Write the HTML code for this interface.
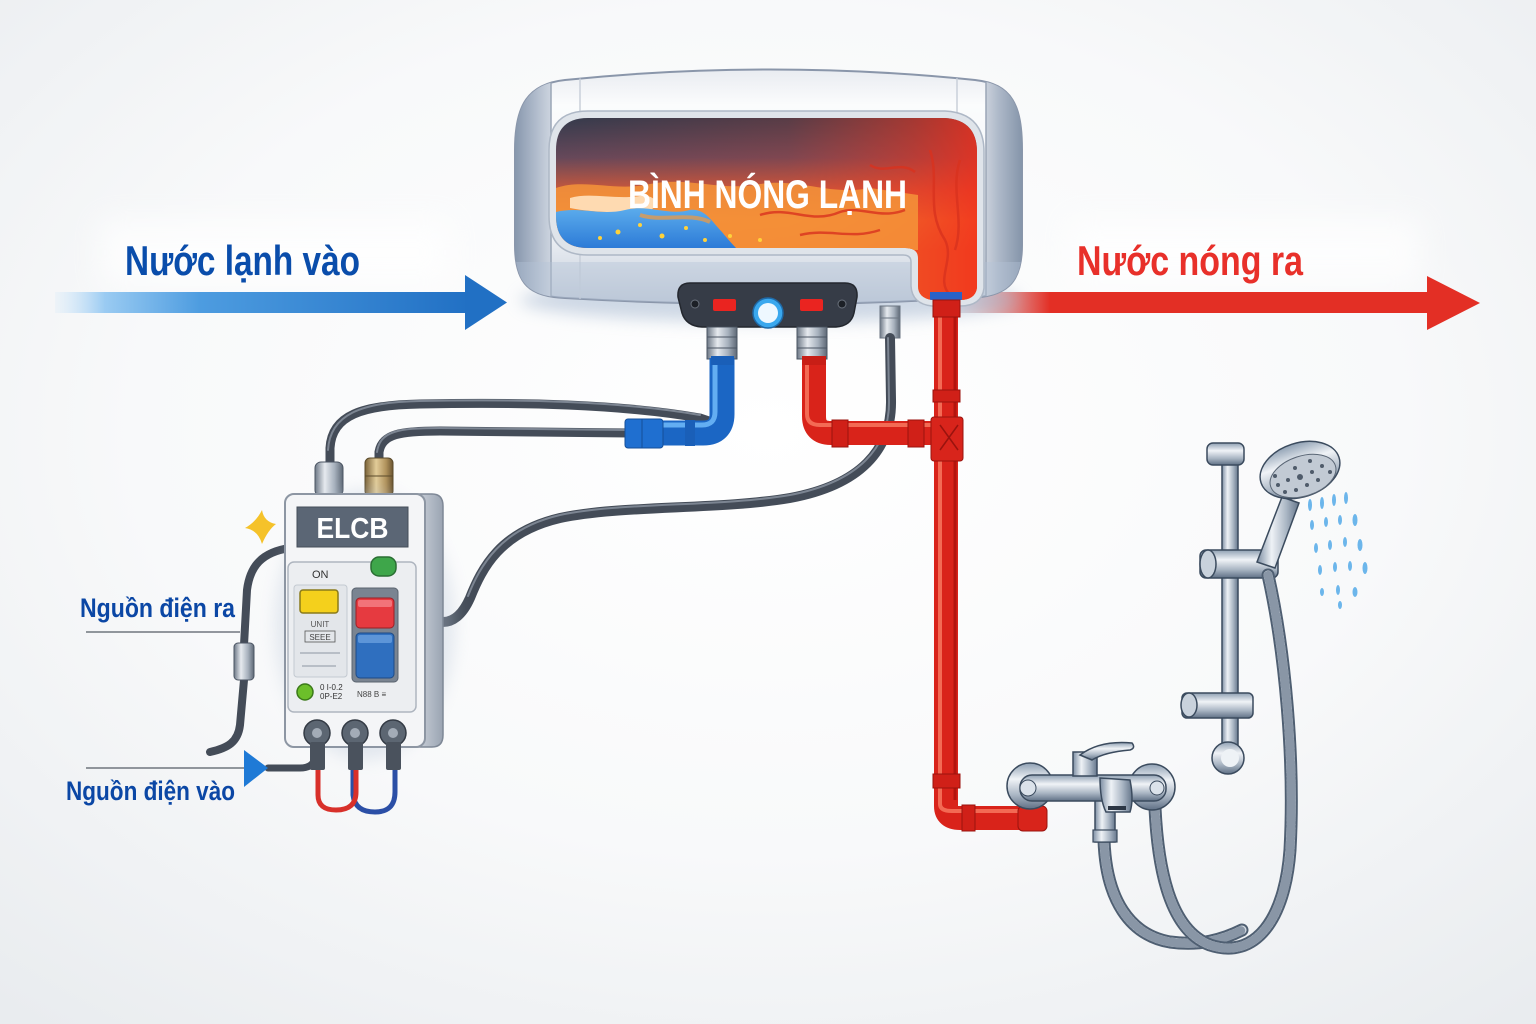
<!DOCTYPE html>
<html><head><meta charset="utf-8"><style>
html,body{margin:0;padding:0;background:#f5f6f8;}
svg{display:block;}
.t{font-family:"Liberation Sans Narrow","Liberation Sans","Noto Sans CJK SC",sans-serif;font-weight:bold;}
</style></head><body>
<svg width="1536" height="1024" viewBox="0 0 1536 1024" xmlns="http://www.w3.org/2000/svg">
<defs>
<radialGradient id="bg" cx="50%" cy="42%" r="75%"><stop offset="0" stop-color="#ffffff"/><stop offset="0.55" stop-color="#f8f9fa"/><stop offset="1" stop-color="#e9ecef"/></radialGradient>
<linearGradient id="ba" x1="55" y1="0" x2="470" y2="0" gradientUnits="userSpaceOnUse"><stop offset="0" stop-color="#cfe6fa" stop-opacity="0.2"/><stop offset="0.12" stop-color="#9acbf2"/><stop offset="0.35" stop-color="#4d9ce0"/><stop offset="1" stop-color="#2170c4"/></linearGradient>
<linearGradient id="ra" x1="955" y1="0" x2="1050" y2="0" gradientUnits="userSpaceOnUse"><stop offset="0" stop-color="#c9ccd6" stop-opacity="0.5"/><stop offset="1" stop-color="#e32f25"/></linearGradient>
<linearGradient id="tb" x1="0" y1="70" x2="0" y2="305" gradientUnits="userSpaceOnUse"><stop offset="0" stop-color="#e9ecf1"/><stop offset="0.15" stop-color="#fbfcfd"/><stop offset="0.7" stop-color="#eef1f5"/><stop offset="1" stop-color="#c0cad8"/></linearGradient>
<linearGradient id="capL" x1="515" y1="0" x2="560" y2="0" gradientUnits="userSpaceOnUse"><stop offset="0" stop-color="#8797ad"/><stop offset="0.5" stop-color="#b3bece"/><stop offset="1" stop-color="#dfe4eb"/></linearGradient>
<linearGradient id="capR" x1="975" y1="0" x2="1022" y2="0" gradientUnits="userSpaceOnUse"><stop offset="0" stop-color="#e2e6ec"/><stop offset="0.5" stop-color="#aeb9c9"/><stop offset="1" stop-color="#8595aa"/></linearGradient>
<linearGradient id="wv" x1="0" y1="118" x2="0" y2="250" gradientUnits="userSpaceOnUse"><stop offset="0" stop-color="#343b4d"/><stop offset="0.3" stop-color="#65485a"/><stop offset="0.55" stop-color="#c9593d"/><stop offset="0.78" stop-color="#f2802e"/><stop offset="1" stop-color="#f06a26"/></linearGradient>
<linearGradient id="wh" x1="555" y1="0" x2="978" y2="0" gradientUnits="userSpaceOnUse"><stop offset="0" stop-color="#e8402a" stop-opacity="0"/><stop offset="0.55" stop-color="#e8402a" stop-opacity="0.2"/><stop offset="0.85" stop-color="#ef3620" stop-opacity="0.6"/><stop offset="1" stop-color="#f2301c" stop-opacity="0.85"/></linearGradient>
<linearGradient id="bw" x1="0" y1="205" x2="0" y2="250" gradientUnits="userSpaceOnUse"><stop offset="0" stop-color="#5fb0ee"/><stop offset="1" stop-color="#2a78d6"/></linearGradient>
<linearGradient id="met" x1="0" y1="0" x2="1" y2="0"><stop offset="0" stop-color="#6d7886"/><stop offset="0.35" stop-color="#e6eaef"/><stop offset="0.7" stop-color="#a7b1bd"/><stop offset="1" stop-color="#5d6875"/></linearGradient>
<linearGradient id="brass" x1="0" y1="0" x2="1" y2="0"><stop offset="0" stop-color="#7a6238"/><stop offset="0.4" stop-color="#e2cc98"/><stop offset="0.75" stop-color="#b0925c"/><stop offset="1" stop-color="#6a5430"/></linearGradient>
<linearGradient id="chr" x1="0" y1="0" x2="1" y2="0"><stop offset="0" stop-color="#7d8ea3"/><stop offset="0.35" stop-color="#eef2f6"/><stop offset="0.7" stop-color="#aab6c4"/><stop offset="1" stop-color="#66778c"/></linearGradient>
<linearGradient id="chrv" x1="0" y1="0" x2="0" y2="1"><stop offset="0" stop-color="#8fa0b3"/><stop offset="0.35" stop-color="#f0f3f7"/><stop offset="0.7" stop-color="#a9b5c3"/><stop offset="1" stop-color="#5f7085"/></linearGradient>
<linearGradient id="side" x1="0" y1="0" x2="1" y2="0"><stop offset="0" stop-color="#d9dee5"/><stop offset="1" stop-color="#9aa4b2"/></linearGradient>
<clipPath id="body"><path d="M565 80 C700 66 840 66 975 80 C1012 84 1022 105 1022 150 L1022 245 C1022 285 1005 296 970 298 C840 306 700 306 565 298 C530 296 515 285 515 245 L515 150 C515 105 528 84 565 80 Z"/></clipPath>
<clipPath id="win"><path d="M588 118 L945 118 Q977 120 977 152 L977 288 Q975 300 960 300 L932 300 Q918 298 918 286 L918 258 Q918 248 905 248 L588 248 Q556 248 556 216 L556 150 Q556 118 588 118 Z"/></clipPath>
<filter id="blur" x="-20%" y="-50%" width="140%" height="200%"><feGaussianBlur stdDeviation="8"/></filter>
<filter id="blur3" x="-30%" y="-80%" width="160%" height="260%"><feGaussianBlur stdDeviation="14"/></filter>
</defs>

<rect width="1536" height="1024" fill="url(#bg)"/>
<rect x="100" y="220" width="350" height="65" fill="#ffffff" opacity="0.7" filter="url(#blur3)"/>
<rect x="1070" y="220" width="350" height="65" fill="#ffffff" opacity="0.7" filter="url(#blur3)"/>

<!-- arrows -->
<rect x="55" y="292" width="412" height="21" fill="url(#ba)"/>
<polygon points="465,275 507,302.5 465,330" fill="#2170c4"/>
<rect x="955" y="292" width="474" height="21" fill="url(#ra)"/>
<polygon points="1427,276 1480,303 1427,330" fill="#e32f25"/>
<text class="t" x="125" y="275" font-size="42" fill="#0a4dab" textLength="235" lengthAdjust="spacingAndGlyphs">Nước lạnh vào</text>
<text class="t" x="1077" y="275" font-size="42" fill="#e8302a" textLength="226" lengthAdjust="spacingAndGlyphs">Nước nóng ra</text>

<!-- tank shadow -->
<ellipse cx="770" cy="300" rx="250" ry="22" fill="#9fb2cc" opacity="0.5" filter="url(#blur)"/>

<!-- tank -->
<path d="M565 80 C700 66 840 66 975 80 C1012 84 1022 105 1022 150 L1022 245 C1022 285 1005 296 970 298 C840 306 700 306 565 298 C530 296 515 285 515 245 L515 150 C515 105 528 84 565 80 Z" fill="url(#tb)" stroke="#8a96aa" stroke-width="2"/>
<g clip-path="url(#body)">
<rect x="515" y="60" width="36" height="250" fill="url(#capL)"/>
<rect x="986" y="60" width="36" height="250" fill="url(#capR)"/>
<line x1="551" y1="70" x2="551" y2="305" stroke="#9aa5b6" stroke-width="1.5"/>
<line x1="580" y1="70" x2="580" y2="305" stroke="#c9d0da" stroke-width="1.5"/>
<line x1="986" y1="70" x2="986" y2="305" stroke="#9aa5b6" stroke-width="1.5"/>
<line x1="957" y1="70" x2="957" y2="118" stroke="#c9d0da" stroke-width="1.5"/>
<rect x="515" y="262" width="510" height="48" fill="#b3c2d8" opacity="0.4"/>
</g>
<!-- window frame -->
<path d="M588 111 L945 111 Q984 113 984 152 L984 288 Q982 306 960 306 L932 306 Q912 304 911 286 L911 262 Q911 255 903 255 L588 255 Q549 255 549 216 L549 150 Q549 111 588 111 Z" fill="#dfe4ea" stroke="#aeb8c6" stroke-width="1.5"/>
<g clip-path="url(#win)">
<rect x="550" y="110" width="440" height="200" fill="url(#wv)"/>
<rect x="550" y="110" width="440" height="200" fill="url(#wh)"/>
<path d="M556 188 C585 178 615 192 650 184 C690 176 720 192 760 184 C800 178 830 196 870 188 L918 195 L918 250 L556 250 Z" fill="#f5943a" opacity="0.85"/>
<path d="M570 198 C590 192 615 200 640 196 C655 194 662 205 650 210 C620 214 590 212 570 208 Z" fill="#ffe2bf" opacity="0.9"/>
<path d="M556 212 C580 206 600 216 625 210 C648 204 668 216 690 210 C705 208 712 222 722 232 C730 242 738 250 738 250 L556 250 Z" fill="url(#bw)"/>
<path d="M640 215 C660 222 690 212 710 222" stroke="#f59a3a" stroke-width="4" fill="none" opacity="0.7"/>
<g fill="#ffd23a"><circle cx="618" cy="232" r="2.5"/><circle cx="640" cy="225" r="2"/><circle cx="662" cy="236" r="2.5"/><circle cx="686" cy="228" r="2"/><circle cx="705" cy="240" r="2"/><circle cx="600" cy="238" r="2"/><circle cx="730" cy="236" r="2"/><circle cx="760" cy="240" r="2"/></g>
<g stroke="#d9321f" stroke-width="2.5" fill="none" opacity="0.8">
<path d="M760 215 C790 205 810 225 840 212 C860 205 880 220 905 210"/>
<path d="M800 235 C830 228 850 240 880 230"/>
<path d="M930 150 C940 180 925 210 945 240 C955 260 935 280 950 295"/>
<path d="M960 160 C950 190 965 220 955 250"/>
<path d="M870 165 C885 175 900 160 915 172"/>
</g>
<rect x="930" y="292" width="32" height="8" fill="#2a62c8"/>
</g>
<text class="t" x="628" y="208" font-size="40" fill="#ffffff" textLength="279" lengthAdjust="spacingAndGlyphs">BÌNH NÓNG LẠNH</text>

<!-- control panel -->
<path d="M690 283 L845 283 Q858 283 857 297 L854 313 Q851 326 836 327 L702 327 Q686 326 682 313 L678 297 Q677 283 690 283 Z" fill="#363c47" stroke="#23272e" stroke-width="1.5"/>
<circle cx="695" cy="304" r="4" fill="#1c2026" stroke="#6a717c"/>
<circle cx="842" cy="304" r="4" fill="#1c2026" stroke="#6a717c"/>
<rect x="713" y="299" width="23" height="12" rx="2" fill="#ea2420"/>
<rect x="800" y="299" width="23" height="12" rx="2" fill="#ea2420"/>
<circle cx="768" cy="313" r="15" fill="#3aa8ee" stroke="#1f6aa8" stroke-width="1.5"/>
<circle cx="768" cy="313" r="10" fill="#eef8ff"/>

<!-- fittings under tank -->
<rect x="707" y="327" width="30" height="32" fill="url(#met)" stroke="#4b5563"/>
<line x1="707" y1="337" x2="737" y2="337" stroke="#4b5563"/>
<line x1="707" y1="348" x2="737" y2="348" stroke="#4b5563"/>
<rect x="797" y="327" width="30" height="32" fill="url(#met)" stroke="#4b5563"/>
<line x1="797" y1="337" x2="827" y2="337" stroke="#4b5563"/>
<line x1="797" y1="348" x2="827" y2="348" stroke="#4b5563"/>
<rect x="880" y="306" width="20" height="32" fill="url(#met)" stroke="#6b7582"/>
<line x1="880" y1="318" x2="900" y2="318" stroke="#6b7582"/>

<!-- cables -->
<g fill="none" stroke-linecap="round">
<path d="M890 338 L891 400 C892 450 860 485 790 498 C720 510 620 505 560 518 C500 532 482 568 470 598 C462 616 452 622 443 622" stroke="#444c58" stroke-width="10"/>
<path d="M888 338 L889 400 C890 448 858 482 790 495 C720 507 620 502 560 515 C500 529 480 566 468 596" stroke="#7c8592" stroke-width="2"/>
<path d="M330 462 L330 448 C332 415 362 405 420 404 C520 402 620 404 700 418 L712 422" stroke="#444c58" stroke-width="9"/>
<path d="M328 450 C330 415 360 402 420 401 C520 399 620 401 700 415" stroke="#7c8592" stroke-width="2"/>
<path d="M379 460 L379 452 C382 434 400 431 440 431 L630 433" stroke="#444c58" stroke-width="9"/>
<path d="M377 452 C380 431 398 428 440 428 L628 430" stroke="#7c8592" stroke-width="2"/>
<path d="M290 548 C262 552 250 566 247 590 L244 645" stroke="#444c58" stroke-width="8"/>
<path d="M244 680 L240 725 C238 742 228 748 210 752" stroke="#444c58" stroke-width="8"/>
<path d="M268 768 L300 768 Q313 768 315 758" stroke="#444c58" stroke-width="7"/>
</g>
<rect x="234" y="643" width="20" height="37" rx="4" fill="url(#met)" stroke="#4b5563"/>

<!-- blue pipe -->
<g fill="none">
<path d="M722 358 L722 414 Q722 433 703 433 L640 433" stroke="#1b66c4" stroke-width="25"/>
<path d="M715 362 L715 412 Q715 425 702 425 L640 425" stroke="#63aef2" stroke-width="5"/>
</g>
<rect x="711" y="356" width="23" height="9" fill="#1a5fb8"/>
<rect x="625" y="419" width="38" height="29" rx="3" fill="#1f6fd0" stroke="#154f98"/>
<line x1="642" y1="419" x2="642" y2="448" stroke="#154f98"/>
<rect x="685" y="420" width="10" height="26" fill="#1a5fb8"/>

<!-- red pipes -->
<g fill="none">
<path d="M814 358 L814 416 Q814 433 831 433 L942 433" stroke="#d9231a" stroke-width="24"/>
<path d="M807 362 L807 414 Q807 425 820 425 L935 425" stroke="#f36a54" stroke-width="4"/>
<path d="M946 300 L946 806 Q946 818 960 818 L1042 818" stroke="#d9231a" stroke-width="24"/>
<path d="M940 302 L940 804 Q940 811 952 811 L1040 811" stroke="#f36a54" stroke-width="4"/>
<path d="M955 302 L955 800" stroke="#b3140e" stroke-width="3"/>
</g>
<rect x="802" y="356" width="24" height="9" fill="#c81e16"/>
<rect x="832" y="420" width="16" height="27" fill="#d02018" stroke="#9a130e"/>
<rect x="908" y="420" width="16" height="27" fill="#d02018" stroke="#9a130e"/>
<rect x="931" y="417" width="32" height="44" rx="3" fill="#d8241b" stroke="#9a130e"/>
<path d="M940 425 L958 450 M958 425 L940 450" stroke="#9a130e" stroke-width="1.5"/>
<rect x="933" y="300" width="27" height="17" fill="#d02018" stroke="#9a130e"/>
<rect x="933" y="390" width="27" height="12" fill="#d02018" stroke="#9a130e"/>
<rect x="933" y="774" width="27" height="14" fill="#d02018" stroke="#9a130e"/>
<rect x="962" y="805" width="13" height="26" fill="#d02018" stroke="#9a130e"/>
<rect x="1018" y="806" width="29" height="25" rx="5" fill="#d8241b" stroke="#9a130e"/>

<!-- ELCB -->
<rect x="315" y="462" width="28" height="34" rx="6" fill="url(#met)" stroke="#4b5563"/>
<rect x="365" y="458" width="28" height="38" rx="5" fill="url(#brass)" stroke="#5a4a2a"/>
<line x1="365" y1="476" x2="393" y2="476" stroke="#5a4a2a"/>
<ellipse cx="365" cy="625" rx="90" ry="135" fill="#b9c6d8" opacity="0.35" filter="url(#blur)"/>
<path d="M410 494 L432 494 Q443 494 443 506 L443 735 Q443 747 432 747 L410 747 Z" fill="url(#side)" stroke="#7e8896" stroke-width="1.5"/>
<rect x="285" y="494" width="140" height="253" rx="9" fill="#f4f5f7" stroke="#8d96a3" stroke-width="2"/>
<rect x="297" y="507" width="111" height="40" fill="#5b6675" stroke="#444d59"/>
<text class="t" x="352.5" y="538" font-size="29" fill="#ffffff" text-anchor="middle" textLength="72" lengthAdjust="spacingAndGlyphs">ELCB</text>
<rect x="288" y="562" width="128" height="150" rx="6" fill="#eceef1" stroke="#aeb5bf" stroke-width="1.5"/>
<rect x="371" y="557" width="25" height="19" rx="8" fill="#3ea64a" stroke="#2a6e33" stroke-width="1.5"/>
<text x="312" y="578" font-family="Liberation Sans,sans-serif" font-size="11" fill="#333">ON</text>
<rect x="294" y="585" width="53" height="92" rx="3" fill="#e3e6ea" stroke="#c3c9d1"/>
<rect x="300" y="590" width="38" height="23" rx="3" fill="#f4d01c" stroke="#8a7a1a" stroke-width="1.5"/>
<text x="320" y="627" font-family="Liberation Sans,sans-serif" font-size="8" fill="#555" text-anchor="middle">UNIT</text>
<rect x="305" y="631" width="30" height="11" fill="none" stroke="#555" stroke-width="0.8"/>
<text x="320" y="640" font-family="Liberation Sans,sans-serif" font-size="8" fill="#444" text-anchor="middle">SEEE</text>
<line x1="300" y1="653" x2="340" y2="653" stroke="#b8bec6" stroke-width="2"/>
<line x1="302" y1="666" x2="336" y2="666" stroke="#b8bec6" stroke-width="2"/>
<rect x="352" y="588" width="46" height="94" rx="4" fill="#7a8491" stroke="#5b6470"/>
<rect x="356" y="598" width="38" height="30" rx="4" fill="#e63a40" stroke="#9b1e24"/>
<rect x="358" y="600" width="34" height="7" rx="2" fill="#f27379"/>
<rect x="356" y="633" width="38" height="45" rx="4" fill="#2f6fbf" stroke="#1d4a86"/>
<rect x="358" y="635" width="34" height="8" rx="2" fill="#5d95d8"/>
<circle cx="305" cy="692" r="8" fill="#6cbf2a" stroke="#3b7a19" stroke-width="1.5"/>
<text x="320" y="690" font-family="Liberation Sans,sans-serif" font-size="8" fill="#333">0 I-0.2</text>
<text x="320" y="699" font-family="Liberation Sans,sans-serif" font-size="8" fill="#333">0P-E2</text>
<text x="357" y="697" font-family="Liberation Sans,sans-serif" font-size="8" fill="#444">N88 B  ≡</text>
<g fill="#5c6672" stroke="#343b45" stroke-width="1.5">
<circle cx="317" cy="733" r="13"/><circle cx="355" cy="733" r="13"/><circle cx="393" cy="733" r="13"/>
</g>
<g fill="#a3acb7"><circle cx="317" cy="733" r="5"/><circle cx="355" cy="733" r="5"/><circle cx="393" cy="733" r="5"/></g>
<g fill="#4a525d"><rect x="310" y="742" width="15" height="28" rx="2"/><rect x="348" y="742" width="15" height="28" rx="2"/><rect x="386" y="742" width="15" height="28" rx="2"/></g>
<g fill="none" stroke-width="5">
<path d="M353 770 L353 795 Q355 812 375 812 Q395 812 395 792 L395 770" stroke="#2b4fa6"/>
<path d="M318 770 L318 795 Q318 810 336 810 Q356 810 356 792 L356 770" stroke="#d8302a"/>
</g>
<path d="M262 510 Q256 522 245 528 Q258 530 262 544 Q268 530 276 524 Q264 522 262 510 Z" fill="#f5c22a"/>

<!-- power labels -->
<line x1="86" y1="632" x2="240" y2="632" stroke="#555c66" stroke-width="1.2"/>
<line x1="86" y1="768" x2="247" y2="768" stroke="#555c66" stroke-width="1.2"/>
<polygon points="244,750 268,768 244,787" fill="#1f7ad6"/>
<text class="t" x="80" y="617" font-size="27" fill="#0b47a5" textLength="155" lengthAdjust="spacingAndGlyphs">Nguồn điện ra</text>
<text class="t" x="66" y="800" font-size="27" fill="#0b47a5" textLength="169" lengthAdjust="spacingAndGlyphs">Nguồn điện vào</text>

<!-- shower rail -->
<rect x="1222" y="460" width="16" height="292" fill="url(#chr)" stroke="#3b4b5e" stroke-width="1.5"/>
<rect x="1207" y="443" width="37" height="22" rx="6" fill="url(#chrv)" stroke="#3b4b5e" stroke-width="1.5"/>
<rect x="1200" y="550" width="78" height="28" rx="6" fill="url(#chrv)" stroke="#3b4b5e" stroke-width="1.5"/>
<ellipse cx="1208" cy="564" rx="8" ry="14" fill="#c9d2dc" stroke="#3b4b5e" stroke-width="1.5"/>
<rect x="1182" y="693" width="71" height="25" rx="5" fill="url(#chrv)" stroke="#3b4b5e" stroke-width="1.5"/>
<ellipse cx="1189" cy="705" rx="8" ry="12" fill="#c9d2dc" stroke="#3b4b5e" stroke-width="1.5"/>
<circle cx="1228" cy="758" r="16" fill="url(#chrv)" stroke="#3b4b5e" stroke-width="1.5"/>
<circle cx="1230" cy="758" r="9" fill="#eef2f6"/>

<!-- hoses -->
<g fill="none" stroke-linecap="round">
<path d="M1104 840 C1106 900 1130 935 1170 942 C1200 946 1222 940 1242 930" stroke="#4f5f72" stroke-width="13"/>
<path d="M1104 840 C1106 900 1130 935 1170 942 C1200 946 1222 940 1242 930" stroke="#d3dae2" stroke-width="9"/>
<path d="M1104 840 C1106 900 1130 935 1170 942 C1200 946 1222 940 1242 930" stroke="#8996a6" stroke-width="9" stroke-dasharray="1.2 2.8"/>
<path d="M1155 808 C1158 870 1170 930 1210 945 C1255 960 1285 920 1290 850 C1295 760 1285 650 1268 575" stroke="#4f5f72" stroke-width="13"/>
<path d="M1155 808 C1158 870 1170 930 1210 945 C1255 960 1285 920 1290 850 C1295 760 1285 650 1268 575" stroke="#d3dae2" stroke-width="9"/>
<path d="M1155 808 C1158 870 1170 930 1210 945 C1255 960 1285 920 1290 850 C1295 760 1285 650 1268 575" stroke="#8996a6" stroke-width="9" stroke-dasharray="1.2 2.8"/>
</g>

<!-- shower head -->
<path d="M1257 562 L1282 497 L1299 503 L1275 568 Z" fill="url(#chr)" stroke="#3b4b5e" stroke-width="1.5"/>
<ellipse cx="1300" cy="470" rx="41" ry="27" transform="rotate(-18 1300 470)" fill="url(#chrv)" stroke="#3b4b5e" stroke-width="1.5"/>
<ellipse cx="1303" cy="476" rx="34" ry="20" transform="rotate(-18 1303 476)" fill="#c2cad4" stroke="#5a6675"/>
<g fill="#4f5b6a">
<circle cx="1300" cy="477" r="3"/><circle cx="1288" cy="480" r="2"/><circle cx="1312" cy="472" r="2"/><circle cx="1295" cy="468" r="2"/><circle cx="1307" cy="485" r="2"/><circle cx="1278" cy="485" r="2"/><circle cx="1322" cy="466" r="2"/><circle cx="1285" cy="492" r="2"/><circle cx="1318" cy="480" r="2"/><circle cx="1330" cy="472" r="2"/><circle cx="1296" cy="490" r="2"/><circle cx="1275" cy="476" r="2"/><circle cx="1310" cy="461" r="2"/>
</g>
<g fill="#4aa6e8" opacity="0.8">
<ellipse cx="1310" cy="505" rx="2" ry="6"/><ellipse cx="1322" cy="503" rx="2" ry="6"/><ellipse cx="1334" cy="500" rx="2" ry="6"/><ellipse cx="1346" cy="498" rx="2" ry="6"/>
<ellipse cx="1312" cy="525" rx="2" ry="5"/><ellipse cx="1326" cy="522" rx="2" ry="5"/><ellipse cx="1340" cy="520" rx="2" ry="5"/><ellipse cx="1355" cy="520" rx="2.5" ry="6"/>
<ellipse cx="1316" cy="548" rx="2" ry="5"/><ellipse cx="1330" cy="545" rx="2" ry="5"/><ellipse cx="1345" cy="542" rx="2" ry="5"/><ellipse cx="1360" cy="545" rx="2.5" ry="6"/>
<ellipse cx="1320" cy="570" rx="2" ry="5"/><ellipse cx="1335" cy="567" rx="2" ry="5"/><ellipse cx="1350" cy="566" rx="2" ry="5"/><ellipse cx="1365" cy="568" rx="2.5" ry="6"/>
<ellipse cx="1322" cy="592" rx="2" ry="4"/><ellipse cx="1338" cy="590" rx="2" ry="5"/><ellipse cx="1355" cy="592" rx="2.5" ry="5"/><ellipse cx="1340" cy="605" rx="2" ry="4"/>
</g>

<!-- faucet -->
<rect x="1095" y="798" width="20" height="44" fill="url(#chr)" stroke="#3b4b5e" stroke-width="1.5"/>
<rect x="1093" y="830" width="24" height="12" fill="url(#chr)" stroke="#3b4b5e" stroke-width="1.2"/>
<circle cx="1030" cy="786" r="23" fill="url(#chrv)" stroke="#3b4b5e" stroke-width="1.5"/>
<circle cx="1152" cy="787" r="23" fill="url(#chrv)" stroke="#3b4b5e" stroke-width="1.5"/>
<rect x="1020" y="775" width="146" height="26" rx="12" fill="url(#chrv)" stroke="#3b4b5e" stroke-width="1.5"/>
<circle cx="1028" cy="788" r="8" fill="#dbe2ea" stroke="#3b4b5e"/>
<circle cx="1157" cy="788" r="7" fill="#dbe2ea" stroke="#3b4b5e"/>
<rect x="1073" y="752" width="24" height="24" fill="url(#chr)" stroke="#3b4b5e" stroke-width="1.5"/>
<path d="M1080 755 Q1100 740 1132 743 Q1136 748 1130 750 Q1105 752 1092 760 Z" fill="url(#chrv)" stroke="#3b4b5e" stroke-width="1.5"/>
<path d="M1100 778 L1130 780 Q1134 800 1130 812 L1106 812 Q1100 800 1100 778 Z" fill="url(#chr)" stroke="#3b4b5e" stroke-width="1.5"/>
<rect x="1108" y="806" width="18" height="4" fill="#2c3644"/>
</svg>
</body></html>
